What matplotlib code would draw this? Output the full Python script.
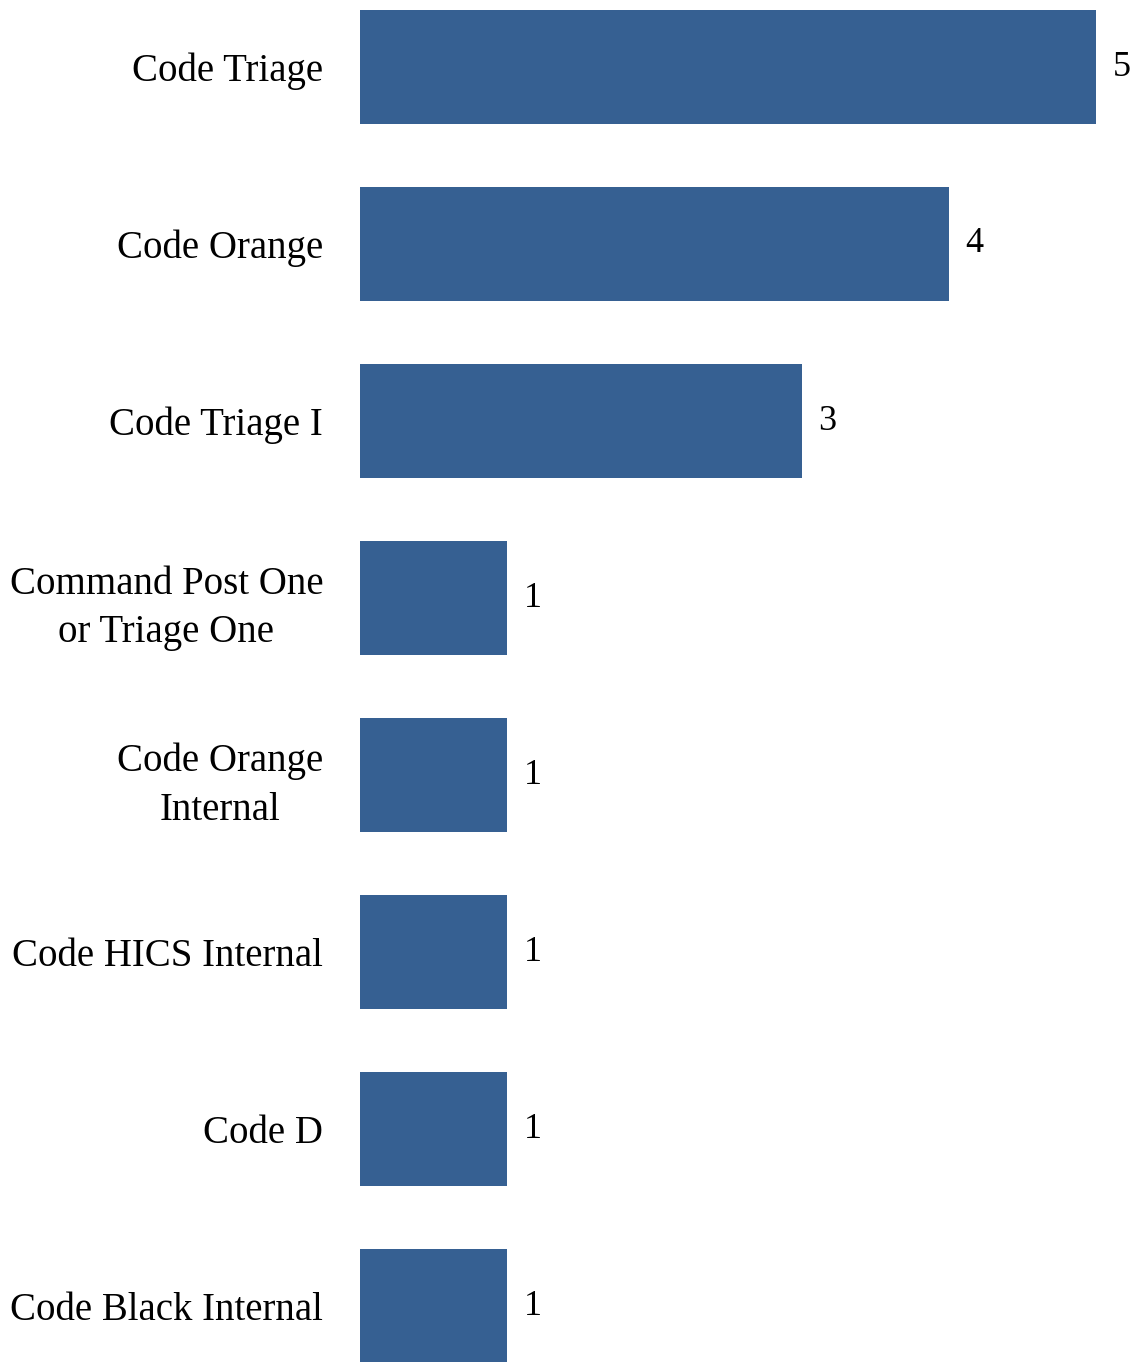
import numpy as np
import matplotlib
matplotlib.use("Agg")
import matplotlib.pyplot as plt

# data
categories = ["Code Triage", "Code Orange", "Code Triage I",
              "Command Post One\nor Triage One", "Code Orange\nInternal",
              "Code HICS Internal", "Code D", "Code Black Internal"]
counts = [5, 4, 3, 1, 1, 1, 1, 1]

bar_color = "#366092"

plt.rcParams['font.family'] = ['Liberation Serif', 'DejaVu Serif']

fig = plt.figure(figsize=(11.35, 13.62), dpi=100)
# axes spans pixel x 360..1096 (value 0..5), full height
ax = fig.add_axes([360 / 1135, 0.0, (1096 - 360) / 1135, 1.0])

pos = np.arange(len(categories))
bars = ax.barh(pos, counts, height=0.645, color=bar_color)

ax.set_xlim(0, 5)
# first bar centre at pixel 67, spacing 177 px
ax.set_ylim((1362 - 67) / 177, -67 / 177)

ax.set_yticks(pos, categories)
ax.tick_params(axis='y', length=0, pad=26.5, labelsize=28)
for t in ax.get_yticklabels():
    t.set_multialignment('center')
    t.set_linespacing(1.42)
ax.set_xticks([])
for s in ax.spines.values():
    s.set_visible(False)

ax.bar_label(bars, labels=[str(c) for c in counts], padding=12,
             fontsize=26, clip_on=False)

fig.savefig("out.png", dpi=100)
